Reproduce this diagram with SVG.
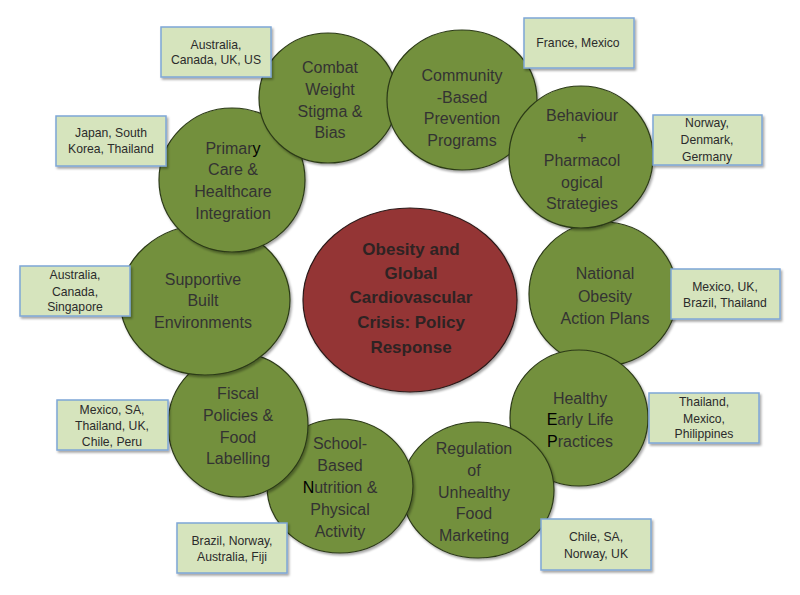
<svg xmlns="http://www.w3.org/2000/svg" width="800" height="595" viewBox="0 0 800 595">
<defs>
<filter id="sh" x="-10%" y="-10%" width="130%" height="130%">
<feDropShadow dx="1.5" dy="2" stdDeviation="1.2" flood-color="#000" flood-opacity="0.35"/>
</filter>
<style>
.c{fill:#73903c;stroke:#2c3a18;stroke-width:1.2;filter:url(#sh)}
.r{fill:#943634;stroke:#2c1a1a;stroke-width:1.2;filter:url(#sh)}
.b{fill:#d6e4bd;stroke:#7ea6d6;stroke-width:1.5;filter:url(#sh)}
.t{font-family:"Liberation Sans",Arial,sans-serif;font-size:16px;fill:#333;text-anchor:middle}
.tc{font-family:"Liberation Sans",Arial,sans-serif;font-size:17px;font-weight:bold;fill:#2e2323;text-anchor:middle}
.bt{font-family:"Liberation Sans",Arial,sans-serif;font-size:12.2px;fill:#2b2b2b;text-anchor:middle}
.k{fill:#000}
</style>
</defs>
<rect width="800" height="595" fill="#fff"/>
<g id="connectors"/>

<g id="center">
<ellipse class="r" cx="410" cy="300" rx="107" ry="92"/>
<text class="tc" x="411" y="255">Obesity and</text>
<text class="tc" x="411" y="279">Global</text>
<text class="tc" x="411" y="303">Cardiovascular</text>
<text class="tc" x="411" y="328">Crisis: Policy</text>
<text class="tc" x="411" y="353">Response</text>
</g>

<g id="national">
<ellipse class="c" cx="603" cy="294" rx="74" ry="72"/>
<text class="t" x="605" y="279">National</text>
<text class="t" x="605" y="302">Obesity</text>
<text class="t" x="605" y="324">Action Plans</text>
</g>

<g id="healthy">
<ellipse class="c" cx="579" cy="418" rx="69" ry="68"/>
<text class="t" x="580" y="404">Healthy</text>
<text class="t" x="580" y="425"><tspan class="k">E</tspan>arly Life</text>
<text class="t" x="580" y="447"><tspan class="k">P</tspan>ractices</text>
</g>

<g id="regulation">
<ellipse class="c" cx="478" cy="490" rx="76" ry="68"/>
<text class="t" x="474" y="454">Regulation</text>
<text class="t" x="474" y="476">of</text>
<text class="t" x="474" y="498">Unhealthy</text>
<text class="t" x="474" y="519">Food</text>
<text class="t" x="474" y="541">Marketing</text>
</g>

<g id="school">
<ellipse class="c" cx="340" cy="486" rx="73" ry="67"/>
<text class="t" x="340" y="449">School-</text>
<text class="t" x="340" y="471">Based</text>
<text class="t" x="340" y="493"><tspan class="k">N</tspan>utrition &amp;</text>
<text class="t" x="340" y="515">Physical</text>
<text class="t" x="340" y="537">Activity</text>
</g>

<g id="fiscal">
<ellipse class="c" cx="238" cy="425" rx="70" ry="72"/>
<text class="t" x="238" y="399">Fiscal</text>
<text class="t" x="238" y="421">Policies &amp;</text>
<text class="t" x="238" y="443">Food</text>
<text class="t" x="238" y="464">Labelling</text>
</g>

<g id="supportive">
<ellipse class="c" cx="205" cy="300" rx="85" ry="75"/>
<text class="t" x="203" y="285">Supportive</text>
<text class="t" x="203" y="306">Built</text>
<text class="t" x="203" y="328">Environments</text>
</g>

<g id="primary">
<ellipse class="c" cx="232" cy="180" rx="73" ry="72"/>
<text class="t" x="233" y="154">Primar<tspan class="k">y</tspan></text>
<text class="t" x="233" y="175">Care &amp;</text>
<text class="t" x="233" y="197">Healthcare</text>
<text class="t" x="233" y="219">Integration</text>
</g>

<g id="combat">
<ellipse class="c" cx="328" cy="98" rx="69" ry="65"/>
<text class="t" x="330" y="73">Combat</text>
<text class="t" x="330" y="95">Weight</text>
<text class="t" x="330" y="117">Stigma &amp;</text>
<text class="t" x="330" y="138">Bias</text>
</g>

<g id="community">
<ellipse class="c" cx="462" cy="100" rx="75" ry="70"/>
<text class="t" x="462" y="81">Community</text>
<text class="t" x="462" y="103">-Based</text>
<text class="t" x="462" y="124">Prevention</text>
<text class="t" x="462" y="146">Programs</text>
</g>

<g id="behaviour">
<ellipse class="c" cx="581" cy="157" rx="72" ry="71"/>
<text class="t" x="582" y="121">Behaviour</text>
<text class="t" x="582" y="143">+</text>
<text class="t" x="582" y="166">Pharmacol</text>
<text class="t" x="582" y="188">ogical</text>
<text class="t" x="582" y="209">Strategies</text>
</g>

<g id="box-combat">
<rect class="b" x="161" y="27" width="110" height="50"/>
<text class="bt" x="216" y="49">Australia,</text>
<text class="bt" x="216" y="64">Canada, UK, US</text>
</g>
<g id="box-community">
<rect class="b" x="524" y="18" width="110" height="50"/>
<text class="bt" x="578" y="47">France, Mexico</text>
</g>
<g id="box-behaviour">
<rect class="b" x="653" y="115" width="109" height="50"/>
<text class="bt" x="707" y="127">Norway,</text>
<text class="bt" x="707" y="144">Denmark,</text>
<text class="bt" x="707" y="161">Germany</text>
</g>
<g id="box-primary">
<rect class="b" x="56" y="116" width="110" height="50"/>
<text class="bt" x="111" y="137">Japan, South</text>
<text class="bt" x="111" y="153">Korea, Thailand</text>
</g>
<g id="box-supportive">
<rect class="b" x="20" y="266" width="110" height="50"/>
<text class="bt" x="75" y="279">Australia,</text>
<text class="bt" x="75" y="296">Canada,</text>
<text class="bt" x="75" y="311">Singapore</text>
</g>
<g id="box-national">
<rect class="b" x="671" y="269" width="109" height="50"/>
<text class="bt" x="725" y="291">Mexico, UK,</text>
<text class="bt" x="725" y="307">Brazil, Thailand</text>
</g>
<g id="box-healthy">
<rect class="b" x="649" y="393" width="110" height="50"/>
<text class="bt" x="704" y="406">Thailand,</text>
<text class="bt" x="704" y="423">Mexico,</text>
<text class="bt" x="704" y="438">Philippines</text>
</g>
<g id="box-fiscal">
<rect class="b" x="57" y="400" width="111" height="50"/>
<text class="bt" x="112" y="414">Mexico, SA,</text>
<text class="bt" x="112" y="430">Thailand, UK,</text>
<text class="bt" x="112" y="446">Chile, Peru</text>
</g>
<g id="box-school">
<rect class="b" x="177" y="523" width="110" height="50"/>
<text class="bt" x="232" y="545">Brazil, Norway,</text>
<text class="bt" x="232" y="561">Australia, Fiji</text>
</g>
<g id="box-regulation">
<rect class="b" x="541" y="519" width="110" height="51"/>
<text class="bt" x="596" y="541">Chile, SA,</text>
<text class="bt" x="596" y="558">Norway, UK</text>
</g>
</svg>
